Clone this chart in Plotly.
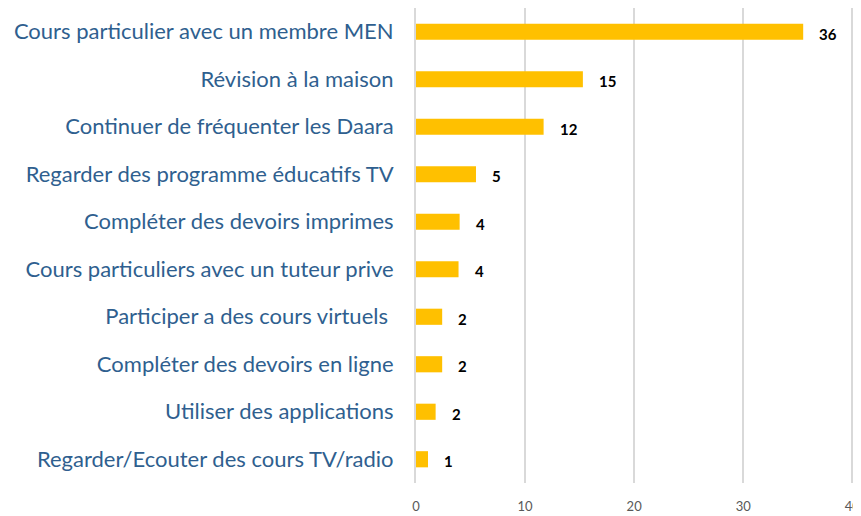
import plotly.graph_objects as go

categories = [
    "Cours particulier avec un membre MEN",
    "Révision à la maison",
    "Continuer de fréquenter les Daara",
    "Regarder des programme éducatifs TV",
    "Compléter des devoirs imprimes",
    "Cours particuliers avec un tuteur prive",
    "Participer a des cours virtuels ",
    "Compléter des devoirs en ligne",
    "Utiliser des applications",
    "Regarder/Ecouter des cours TV/radio",
]
values = [35.5, 15.3, 11.7, 5.5, 4.0, 3.9, 2.4, 2.4, 1.8, 1.1]
labels = ["36", "15", "12", "5", "4", "4", "2", "2", "2", "1"]

# reverse so the first category is at the top
cats = categories[::-1]
vals = values[::-1]
labs = labels[::-1]

fig = go.Figure()
fig.add_trace(go.Bar(
    x=vals,
    y=cats,
    orientation="h",
    marker=dict(color="#FFC000", line=dict(width=0)),
    width=0.34,
    hoverinfo="x+y",
))

for c, v, t in zip(cats, vals, labs):
    fig.add_annotation(
        x=v, y=c, text="<b>%s</b>" % t, showarrow=False,
        xanchor="left", xshift=14, yshift=-2,
        font=dict(family="Lato", size=15, color="#000000"),
    )

fig.update_layout(
    width=853, height=508,
    margin=dict(l=408, r=0, t=0, b=33),
    plot_bgcolor="white",
    paper_bgcolor="white",
    showlegend=False,
    xaxis=dict(
        range=[0, 40.8],
        tickvals=[0, 10, 20, 30, 40],
        showgrid=True,
        gridcolor="#D9D9D9",
        gridwidth=2,
        zeroline=False,
        showline=False,
        tickfont=dict(family="Lato", size=13, color="#595959"),
        ticks="",
        ticklabelstandoff=14,
        ticklabeloverflow="allow",
        automargin=False,
    ),
    yaxis=dict(
        showgrid=False,
        showline=True,
        linecolor="#D9D9D9",
        linewidth=2,
        ticks="",
        ticklabelstandoff=16,
        automargin=False,
        tickfont=dict(family="Lato", size=22, color="#2F5F8F"),
    ),
)

fig.write_html("out.html")
